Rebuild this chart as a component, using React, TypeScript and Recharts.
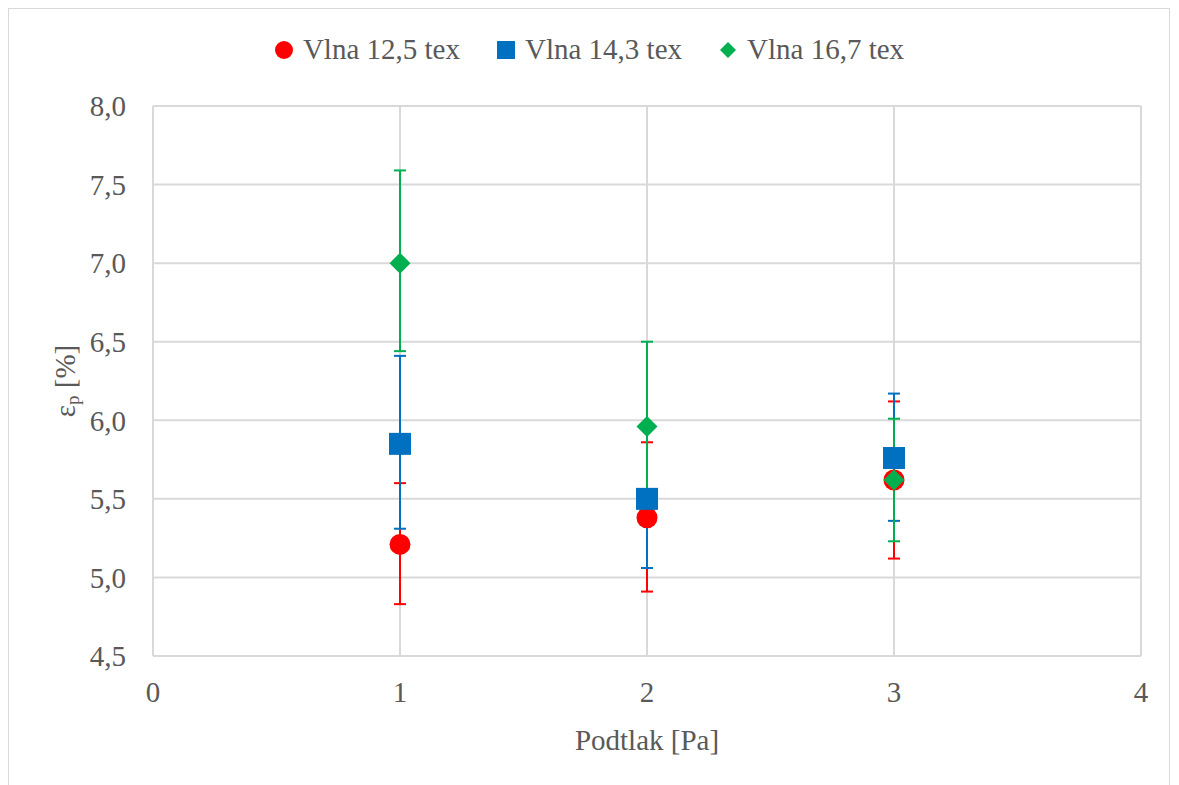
import { ScatterChart, Scatter, XAxis, YAxis, CartesianGrid, ErrorBar } from 'recharts';

const xValues = [1, 2, 3];
const xTicks = [0, 1, 2, 3, 4];
const yTicks = [4.5, 5.0, 5.5, 6.0, 6.5, 7.0, 7.5, 8.0];

const vlna125 = [5.21, 5.38, 5.62];
const vlna125Hi = [5.6, 5.86, 6.12];
const vlna125Lo = [4.83, 4.91, 5.12];

const vlna143 = [5.85, 5.5, 5.76];
const vlna143Hi = [6.41, 5.94, 6.17];
const vlna143Lo = [5.31, 5.06, 5.36];

const vlna167 = [7.0, 5.96, 5.62];
const vlna167Hi = [7.59, 6.5, 6.01];
const vlna167Lo = [6.44, 5.42, 5.23];

const TEXT = '#595959';
const GRID = '#D9D9D9';
const FONT = 'Liberation Serif';

// force the serif face on everything inside the chart box
const css = `.vlna-chart, .vlna-chart * { font-family: 'Liberation Serif', Tinos, 'Times New Roman', serif !important; }`;

function build(vals: number[], hi: number[], lo: number[]) {
  return xValues.map((x, i) => ({ x, y: vals[i], err: [vals[i] - lo[i], hi[i] - vals[i]] }));
}

const series = [
  { name: 'Vlna 12,5 tex', color: '#FF0000', shape: 'circle', data: build(vlna125, vlna125Hi, vlna125Lo) },
  { name: 'Vlna 14,3 tex', color: '#0070C0', shape: 'square', data: build(vlna143, vlna143Hi, vlna143Lo) },
  { name: 'Vlna 16,7 tex', color: '#00B050', shape: 'diamond', data: build(vlna167, vlna167Hi, vlna167Lo) },
];

function Marker({ kind, color, cx, cy, size }: any) {
  if (kind === 'circle') return <circle cx={cx} cy={cy} r={size / 2} fill={color} />;
  if (kind === 'square') return <rect x={cx - size / 2} y={cy - size / 2} width={size} height={size} fill={color} />;
  const h = size / 2;
  return <polygon points={`${cx},${cy - h} ${cx + h},${cy} ${cx},${cy + h} ${cx - h},${cy}`} fill={color} />;
}

const markerSize: any = { circle: 21, square: 22, diamond: 21 };
const legendSize: any = { circle: 18, square: 18, diamond: 16 };

const fmt = (v: number) => v.toFixed(1).replace('.', ',');

export default function App() {
  return (
    <div
      className="vlna-chart"
      style={{
        position: 'relative',
        width: 1162,
        height: 777,
        borderTop: `1px solid ${GRID}`,
        borderLeft: `1px solid ${GRID}`,
        borderRight: `1px solid ${GRID}`,
        boxSizing: 'border-box',
        fontFamily: FONT,
      }}
    >
      <style>{css}</style>
      <div
        style={{
          position: 'absolute',
          top: 24,
          left: 0,
          width: '100%',
          display: 'flex',
          justifyContent: 'center',
          gap: 36,
          fontSize: 29,
          fontFamily: FONT,
          color: TEXT,
        }}
      >
        {series.map((s) => (
          <div key={s.name} style={{ display: 'flex', alignItems: 'center', gap: 9 }}>
            <svg width={20} height={20}>
              <Marker kind={s.shape} color={s.color} cx={10} cy={10} size={legendSize[s.shape]} />
            </svg>
            <span>{s.name}</span>
          </div>
        ))}
      </div>
      <ScatterChart width={1160} height={776} margin={{ top: 97, right: 28, bottom: 69, left: 20 }}>
        <CartesianGrid stroke={GRID} strokeWidth={2} />
        <XAxis
          type="number"
          dataKey="x"
          domain={[0, 4]}
          ticks={xTicks}
          height={60}
          stroke={GRID}
          strokeWidth={2}
          tickLine={false}
          tickSize={0}
          tickMargin={25}
          tick={{ fill: TEXT, fontSize: 29, fontFamily: FONT }}
          label={{
            content: ({ viewBox }: any) => (
              <text
                x={viewBox.x + viewBox.width / 2}
                y={viewBox.y + 94}
                textAnchor="middle"
                fill={TEXT}
                fontSize={29}
                fontFamily={FONT}
              >
                Podtlak [Pa]
              </text>
            ),
          }}
        />
        <YAxis
          type="number"
          dataKey="y"
          domain={[4.5, 8]}
          ticks={yTicks}
          width={124}
          stroke={GRID}
          strokeWidth={2}
          tickLine={false}
          tickSize={0}
          tickMargin={27}
          tickFormatter={fmt}
          tick={{ fill: TEXT, fontSize: 29, fontFamily: FONT }}
          label={{
            content: ({ viewBox }: any) => {
              const x = viewBox.x + 36;
              const cy = viewBox.y + viewBox.height / 2;
              return (
                <text
                  transform={`rotate(-90, ${x}, ${cy})`}
                  x={x}
                  y={cy}
                  textAnchor="middle"
                  dominantBaseline="central"
                  fill={TEXT}
                  fontSize={29}
                  fontFamily={FONT}
                >
                  ε
                  <tspan dy={7} fontSize={19}>
                    p
                  </tspan>
                  <tspan dy={-7}> [%]</tspan>
                </text>
              );
            },
          }}
        />
        {series.map((s) => (
          <Scatter
            key={s.name}
            name={s.name}
            data={s.data}
            fill={s.color}
            isAnimationActive={false}
            shape={(p: any) => <Marker kind={s.shape} color={s.color} cx={p.cx} cy={p.cy} size={markerSize[s.shape]} />}
          >
            <ErrorBar dataKey="err" direction="y" width={6} strokeWidth={2} stroke={s.color} />
          </Scatter>
        ))}
      </ScatterChart>
    </div>
  );
}
